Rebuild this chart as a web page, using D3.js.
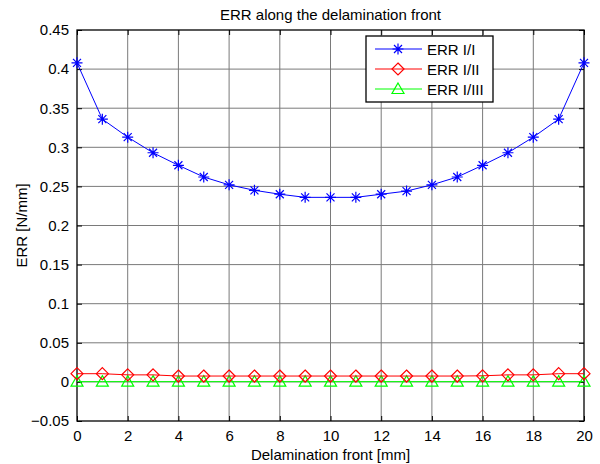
<!DOCTYPE html>
<html>
<head>
<meta charset="utf-8">
<script src="https://cdnjs.cloudflare.com/ajax/libs/d3/7.8.5/d3.min.js"></script>
<style>
  html, body { margin: 0; background: #fff; }
  text { font-family: Arial, "Liberation Sans", sans-serif; fill: #000; }
</style>
</head>
<body>
<svg id="chart" width="600" height="464"></svg>
<script>
// data
var positions = d3.range(0, 21);
var errI   = [0.408, 0.336, 0.313, 0.293, 0.277, 0.262, 0.252, 0.245, 0.240, 0.236, 0.236,
              0.236, 0.240, 0.244, 0.252, 0.262, 0.277, 0.293, 0.313, 0.336, 0.408];
var errII  = [0.0105, 0.0105, 0.009, 0.009, 0.0075, 0.0075, 0.0075, 0.0075, 0.0075, 0.0075, 0.0075,
              0.0075, 0.0075, 0.0075, 0.0075, 0.0075, 0.0078, 0.009, 0.009, 0.0105, 0.0105];
var errIII = [0.0003, 0.0003, 0.0003, 0.0003, 0.0003, 0.0003, 0.0003, 0.0003, 0.0003, 0.0003, 0.0003,
              0.0003, 0.0003, 0.0003, 0.0003, 0.0003, 0.0003, 0.0003, 0.0003, 0.0003, 0.0003];
var xTicks = [0, 2, 4, 6, 8, 10, 12, 14, 16, 18, 20];
var yTicks = [-0.05, 0, 0.05, 0.1, 0.15, 0.2, 0.25, 0.3, 0.35, 0.4, 0.45];
var seriesNames = ["ERR I/I", "ERR I/II", "ERR I/III"];
var seriesColors = ["#0000ff", "#ff0000", "#00ff00"];
var seriesMarkers = ["star", "diamond", "triangle"];

var L = 77, R = 584, T = 30, B = 421;
var svg = d3.select("#chart");
var x = d3.scaleLinear().domain([0, 20]).range([L, R]);
var y = d3.scaleLinear().domain([-0.05, 0.45]).range([B, T]);

// grid
svg.append("g").selectAll("line").data(xTicks.slice(1, -1)).enter().append("line")
    .attr("x1", function (d) { return x(d); }).attr("x2", function (d) { return x(d); })
    .attr("y1", T).attr("y2", B)
    .attr("stroke", "#7a7a7a").attr("stroke-width", 1);
svg.append("g").selectAll("line").data(yTicks.slice(1, -1)).enter().append("line")
    .attr("y1", function (d) { return y(d); }).attr("y2", function (d) { return y(d); })
    .attr("x1", L).attr("x2", R)
    .attr("stroke", "#7a7a7a").attr("stroke-width", 1);

// axes with inner ticks
function fmt(d) { return d3.format("")(+d.toFixed(2)); }
svg.append("g").attr("transform", "translate(0," + B + ")")
    .call(d3.axisBottom(x).tickValues(xTicks).tickSize(-5).tickPadding(9).tickFormat(d3.format("d")))
    .call(function (g) { g.select(".domain").remove(); });
svg.append("g").attr("transform", "translate(0," + T + ")")
    .call(d3.axisTop(x).tickValues(xTicks).tickSize(-5).tickFormat(""))
    .call(function (g) { g.select(".domain").remove(); });
svg.append("g").attr("transform", "translate(" + L + ",0)")
    .call(d3.axisLeft(y).tickValues(yTicks).tickSize(-5).tickPadding(8).tickFormat(fmt))
    .call(function (g) { g.select(".domain").remove(); });
svg.append("g").attr("transform", "translate(" + R + ",0)")
    .call(d3.axisRight(y).tickValues(yTicks).tickSize(-5).tickFormat(""))
    .call(function (g) { g.select(".domain").remove(); });
svg.selectAll(".tick line").attr("stroke", "#000");
svg.selectAll(".tick text").style("font-size", "15px").attr("fill", "#000")
    .style("font-family", "Arial, 'Liberation Sans', sans-serif");

svg.append("rect").attr("x", L).attr("y", T).attr("width", R - L).attr("height", B - T)
    .attr("fill", "none").attr("stroke", "#000").attr("stroke-width", 1.3);

// markers
function drawMarker(g, kind, cx, cy, color) {
  if (kind === "star") {
    var r = 5.5, d = 4;
    g.append("path")
      .attr("d", "M" + (cx - r) + "," + cy + "h" + (2 * r) + "M" + cx + "," + (cy - r) + "v" + (2 * r) +
                 "M" + (cx - d) + "," + (cy - d) + "l" + (2 * d) + "," + (2 * d) +
                 "M" + (cx - d) + "," + (cy + d) + "l" + (2 * d) + "," + (-2 * d))
      .attr("stroke", color).attr("stroke-width", 1.2).attr("fill", "none");
  } else if (kind === "diamond") {
    var s = 6;
    g.append("path")
      .attr("d", "M" + cx + "," + (cy - s) + "L" + (cx + s) + "," + cy + "L" + cx + "," + (cy + s) + "L" + (cx - s) + "," + cy + "Z")
      .attr("stroke", color).attr("stroke-width", 1.2).attr("fill", "none");
  } else {
    var t = 6;
    g.append("path")
      .attr("d", "M" + cx + "," + (cy - t) + "L" + (cx + t) + "," + (cy + t * 0.75) + "L" + (cx - t) + "," + (cy + t * 0.75) + "Z")
      .attr("stroke", color).attr("stroke-width", 1.2).attr("fill", "none");
  }
}

var allSeries = [errI, errII, errIII];
var line = d3.line().x(function (d, i) { return x(positions[i]); }).y(function (d) { return y(d); });
[2, 1, 0].forEach(function (k) {
  var g = svg.append("g");
  g.append("path").datum(allSeries[k]).attr("d", line)
    .attr("fill", "none").attr("stroke", seriesColors[k]).attr("stroke-width", 1);
  allSeries[k].forEach(function (v, i) {
    drawMarker(g, seriesMarkers[k], x(positions[i]), y(v), seriesColors[k]);
  });
});

// legend
var lg = svg.append("g");
lg.append("rect").attr("x", 366).attr("y", 36).attr("width", 127).attr("height", 66)
  .attr("fill", "#fff").attr("stroke", "#000").attr("stroke-width", 1.3);
var rowY = [49, 69, 89];
seriesNames.forEach(function (name, k) {
  lg.append("line").attr("x1", 375).attr("x2", 422).attr("y1", rowY[k]).attr("y2", rowY[k])
    .attr("stroke", seriesColors[k]).attr("stroke-width", 1);
  drawMarker(lg, seriesMarkers[k], 398, rowY[k], seriesColors[k]);
  lg.append("text").attr("x", 427).attr("y", rowY[k] + 1).attr("dy", "0.35em")
    .style("font-size", "15px").text(name);
});

// titles
svg.append("text").attr("x", (L + R) / 2).attr("y", 20).attr("text-anchor", "middle")
  .style("font-size", "15px").text("ERR along the delamination front");
svg.append("text").attr("x", (L + R) / 2).attr("y", 460).attr("text-anchor", "middle")
  .style("font-size", "15px").text("Delamination front [mm]");
svg.append("text").attr("transform", "translate(27," + ((T + B) / 2) + ") rotate(-90)")
  .attr("text-anchor", "middle").style("font-size", "15px").text("ERR [N/mm]");
</script>
</body>
</html>
